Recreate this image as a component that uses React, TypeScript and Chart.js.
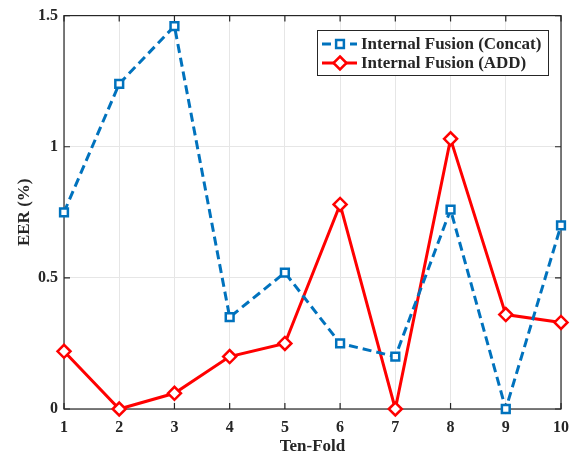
import React, { useEffect, useRef } from 'react';
import { Chart, registerables } from 'chart.js';

Chart.register(...registerables);

const folds = ['1', '2', '3', '4', '5', '6', '7', '8', '9', '10'];
const concatEER = [0.75, 1.24, 1.46, 0.35, 0.52, 0.25, 0.2, 0.76, 0.0, 0.7];
const addEER = [0.22, 0.0, 0.06, 0.2, 0.25, 0.78, 0.0, 1.03, 0.36, 0.33];
const yTicks = [0, 0.5, 1, 1.5];
const yTickLabels = ['0', '0.5', '1', '1.5'];
const seriesNames = ['Internal Fusion (Concat)', 'Internal Fusion (ADD)'];

const FONT = "'Liberation Serif', 'Times New Roman', serif";
const TEXT = '#262626';
const BLUE = '#0072BD';
const RED = '#FF0000';

const framePlugin = {
  id: 'frame',
  beforeDatasetsDraw(chart: any) {
    const { ctx, chartArea, scales } = chart;
    const { left, right, top, bottom } = chartArea;
    ctx.save();
    ctx.strokeStyle = TEXT;
    ctx.lineWidth = 1.2;
    ctx.strokeRect(left, top, right - left, bottom - top);
    const tl = 6;
    ctx.beginPath();
    scales.x.ticks.forEach((_t: any, i: number) => {
      const px = scales.x.getPixelForTick(i);
      ctx.moveTo(px, bottom);
      ctx.lineTo(px, bottom - tl);
      ctx.moveTo(px, top);
      ctx.lineTo(px, top + tl);
    });
    scales.y.ticks.forEach((t: any) => {
      const py = scales.y.getPixelForValue(t.value);
      ctx.moveTo(left, py);
      ctx.lineTo(left + tl, py);
      ctx.moveTo(right, py);
      ctx.lineTo(right - tl, py);
    });
    ctx.stroke();
    ctx.restore();
  },
};

const legendPlugin = {
  id: 'boxLegend',
  afterDraw(chart: any) {
    const { ctx } = chart;
    const bx = 317;
    const by = 30;
    const bw = 231;
    const bh = 45;
    ctx.save();
    ctx.fillStyle = '#ffffff';
    ctx.fillRect(bx, by, bw, bh);
    ctx.strokeStyle = TEXT;
    ctx.lineWidth = 1;
    ctx.strokeRect(bx + 0.5, by + 0.5, bw, bh);
    const rows = [44, 63];
    chart.data.datasets.forEach((ds: any, i: number) => {
      const y = rows[i];
      ctx.save();
      ctx.strokeStyle = ds.borderColor;
      ctx.lineWidth = ds.borderWidth;
      ctx.setLineDash(ds.borderDash || []);
      ctx.beginPath();
      ctx.moveTo(322, y);
      ctx.lineTo(357, y);
      ctx.stroke();
      ctx.restore();
      ctx.save();
      ctx.strokeStyle = ds.pointBorderColor;
      ctx.fillStyle = ds.pointBackgroundColor;
      ctx.lineWidth = ds.pointBorderWidth;
      ctx.beginPath();
      const cx = 340;
      const r = ds.pointRadius;
      if (ds.pointStyle === 'rect') {
        const s = Math.SQRT1_2 * r;
        ctx.rect(cx - s, y - s, 2 * s, 2 * s);
      } else {
        ctx.moveTo(cx, y - r);
        ctx.lineTo(cx + r, y);
        ctx.lineTo(cx, y + r);
        ctx.lineTo(cx - r, y);
        ctx.closePath();
      }
      ctx.fill();
      ctx.stroke();
      ctx.restore();
      ctx.fillStyle = TEXT;
      ctx.font = `bold 17px ${FONT}`;
      ctx.textAlign = 'left';
      ctx.textBaseline = 'middle';
      ctx.fillText(ds.label, 361, y + 1);
    });
    ctx.restore();
  },
};

export default function App() {
  const ref = useRef<HTMLCanvasElement | null>(null);

  useEffect(() => {
    if (!ref.current) return;
    const chart = new Chart(ref.current, {
      type: 'line',
      data: {
        labels: folds,
        datasets: [
          {
            label: seriesNames[0],
            data: concatEER,
            borderColor: BLUE,
            borderWidth: 3,
            borderDash: [9, 5],
            pointStyle: 'rect',
            pointRadius: 5.5,
            pointBorderWidth: 2.5,
            pointBorderColor: BLUE,
            pointBackgroundColor: '#ffffff',
            tension: 0,
            clip: false,
          } as any,
          {
            label: seriesNames[1],
            data: addEER,
            borderColor: RED,
            borderWidth: 3,
            pointStyle: 'rectRot',
            pointRadius: 6.5,
            pointBorderWidth: 2.5,
            pointBorderColor: RED,
            pointBackgroundColor: '#ffffff',
            tension: 0,
            clip: false,
          } as any,
        ],
      },
      options: {
        animation: false,
        responsive: false,
        devicePixelRatio: 1,
        layout: { padding: { left: 0, top: 15, right: 15, bottom: 0 } },
        plugins: {
          legend: { display: false },
          tooltip: { enabled: false },
        },
        scales: {
          x: {
            type: 'category',
            offset: false,
            grid: { color: '#e6e6e6', drawTicks: false, lineWidth: 1 },
            border: { display: false },
            ticks: {
              color: TEXT,
              font: { family: FONT, size: 16, weight: 'bold' },
              padding: 9,
              maxRotation: 0,
              autoSkip: false,
            },
            title: {
              display: true,
              text: 'Ten-Fold',
              color: TEXT,
              font: { family: FONT, size: 17, weight: 'bold' },
              padding: { top: 0, bottom: 0 },
            },
            afterFit(scale: any) {
              scale.height = 48;
            },
          },
          y: {
            type: 'linear',
            min: 0,
            max: 1.5,
            grid: { color: '#e6e6e6', drawTicks: false, lineWidth: 1 },
            border: { display: false },
            afterBuildTicks(scale: any) {
              scale.ticks = yTicks.map((v) => ({ value: v }));
            },
            ticks: {
              color: TEXT,
              font: { family: FONT, size: 16, weight: 'bold' },
              padding: 6,
              callback: (value: any) => {
                const idx = yTicks.indexOf(Number(value));
                return idx >= 0 ? yTickLabels[idx] : String(value);
              },
            },
            title: {
              display: true,
              text: 'EER (%)',
              color: TEXT,
              font: { family: FONT, size: 17, weight: 'bold' },
              padding: { top: 14, bottom: 0 },
            },
            afterFit(scale: any) {
              scale.width = 64;
            },
          },
        },
      } as any,
      plugins: [framePlugin, legendPlugin],
    });
    return () => chart.destroy();
  }, []);

  return (
    <div style={{ position: 'absolute', left: 0, top: 0, width: 578, height: 457, background: '#fff' }}>
      <canvas ref={ref} width={578} height={457} />
    </div>
  );
}
